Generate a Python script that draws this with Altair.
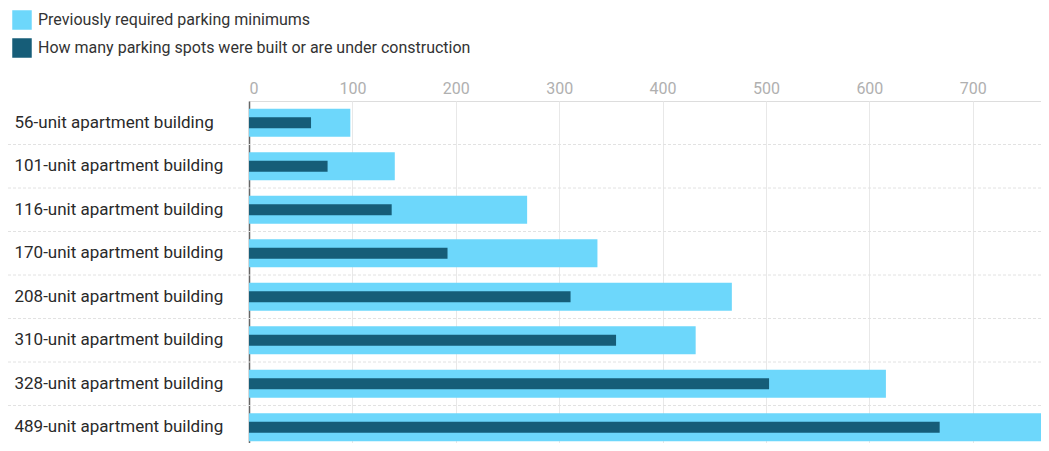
import altair as alt
import pandas as pd

categories = [
    "56-unit apartment building",
    "101-unit apartment building",
    "116-unit apartment building",
    "170-unit apartment building",
    "208-unit apartment building",
    "310-unit apartment building",
    "328-unit apartment building",
    "489-unit apartment building",
]
required = [98, 141, 269, 337, 467, 432, 616, 800]
built = [60, 76, 138, 192, 311, 355, 503, 668]
series_names = [
    "Previously required parking minimums",
    "How many parking spots were built or are under construction",
]
x_ticks = [0, 100, 200, 300, 400, 500, 600, 700]

rows = []
for c, r, b in zip(categories, required, built):
    rows.append({"building": c, "series": series_names[0], "spots": r})
    rows.append({"building": c, "series": series_names[1], "spots": b})
df = pd.DataFrame(rows)
sep_df = pd.DataFrame({"building": categories[1:]})

FONT = "Roboto"
LIGHT = "#6DD7FB"
DARK = "#165D78"

x_enc = alt.X(
    "spots:Q",
    scale=alt.Scale(domain=[0, 766], nice=False, zero=True),
    axis=alt.Axis(
        orient="top", values=x_ticks, title=None, domain=False, domainOpacity=0,
        ticks=False, labelColor="#b0b0b0", labelFontSize=16, labelPadding=5,
        labelFont=FONT, grid=True, gridColor="#e8e8e8", gridWidth=1,
    ),
)
y_scale = alt.Scale(paddingInner=0, paddingOuter=0, range=[0, 348])
y_enc = alt.Y(
    "building:N", sort=categories, title=None, scale=y_scale,
    axis=alt.Axis(
        labelAlign="left", labelPadding=235, labelFontSize=17, labelColor="#2a2a2a",
        labelFont=FONT, ticks=False, labelLimit=300, grid=False,
        domain=True, domainColor="#666666", domainWidth=1.5,
    ),
)
color_enc = alt.Color(
    "series:N",
    scale=alt.Scale(domain=series_names, range=[LIGHT, DARK]),
    legend=alt.Legend(
        title=None, orient="none", legendX=-237, legendY=-91, direction="vertical",
        symbolType="square", symbolSize=380, symbolStrokeWidth=0, symbolOpacity=1,
        labelFontSize=16, labelColor="#333333", labelFont=FONT, labelLimit=700,
        rowPadding=8, labelOffset=6,
    ),
)

seps = alt.Chart(sep_df).mark_rule(color="#e2e2e2", strokeDash=[3, 2], strokeWidth=1).encode(
    y=alt.Y("building:N", sort=categories, bandPosition=0, title=None, scale=y_scale),
    x=alt.value(-241),
    x2=alt.value(792),
)

base = alt.Chart(df).encode(x=x_enc, y=y_enc, color=color_enc)
light = base.transform_filter(alt.datum.series == series_names[0]).mark_bar(size=28, clip=True)
dark = base.transform_filter(alt.datum.series == series_names[1]).mark_bar(size=11, clip=True)

chart = (
    alt.layer(seps, light, dark)
    .properties(
        width=792, height=342,
        autosize=alt.AutoSizeParams(type="none"),
        padding={"left": 241, "top": 93, "right": 0, "bottom": 0},
    )
    .configure_view(strokeWidth=0, stroke="transparent")
    .configure_axisX(domain=False, domainOpacity=0)
    .configure(font=FONT)
)

chart.save("out.html", embed_options={"renderer": "svg", "actions": False})
